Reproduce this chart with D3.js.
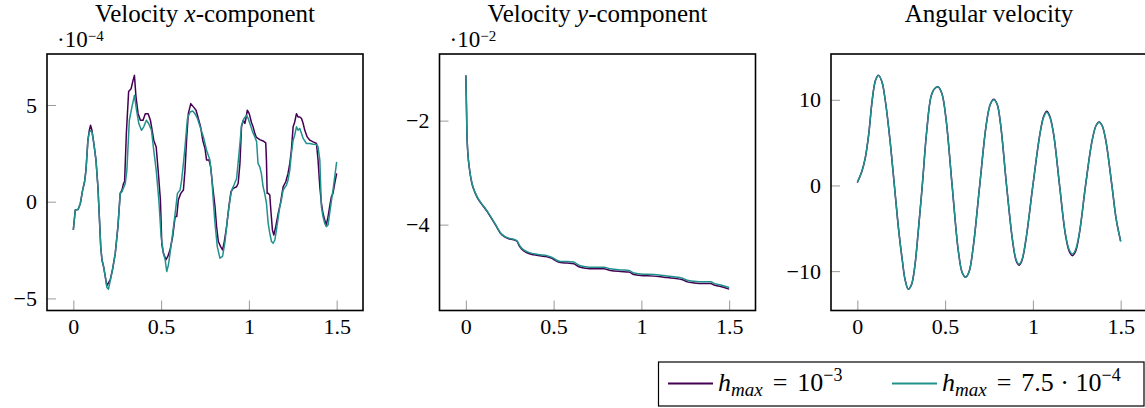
<!DOCTYPE html>
<html>
<head>
<meta charset="utf-8">
<script src="https://cdn.jsdelivr.net/npm/d3@7"></script>
<style>
  body { margin: 0; background: #fff; }
  text { font-family: "Liberation Serif", "DejaVu Serif", serif; fill: #000; }
</style>
</head>
<body>
<div id="plot-container"></div>
<script>
// --- data ---

// panel 1: velocity x-component (units of 1e-4)
var velXTimeA = [0.000,0.011,0.027,0.040,0.053,0.064,0.072,0.083,0.091,0.098,0.106,0.117,0.129,0.140,0.148,0.156,0.163,0.172,0.182,0.191,0.200,0.210,0.223,0.239,0.254,0.267,0.277,0.286,0.292,0.302,0.315,0.329,0.340,0.348,0.357,0.369,0.382,0.397,0.410,0.426,0.439,0.449,0.458,0.472,0.483,0.496,0.504,0.513,0.528,0.538,0.551,0.566,0.580,0.589,0.598,0.612,0.627,0.636,0.646,0.655,0.669,0.684,0.699,0.712,0.725,0.737,0.750,0.759,0.773,0.782,0.794,0.807,0.816,0.826,0.839,0.850,0.860,0.873,0.886,0.898,0.911,0.930,0.939,0.949,0.958,0.968,0.977,0.983,0.991,1.002,1.015,1.024,1.034,1.043,1.062,1.081,1.096,1.100,1.104,1.110,1.119,1.125,1.134,1.142,1.153,1.167,1.180,1.195,1.210,1.223,1.233,1.242,1.252,1.261,1.271,1.280,1.290,1.300,1.309,1.318,1.332,1.347,1.366,1.385,1.394,1.404,1.413,1.422,1.432,1.441,1.451,1.460,1.470,1.479,1.489,1.500];
var velXA = [-1.46,-0.43,-0.40,-0.09,0.60,1.03,1.63,3.18,3.69,3.95,3.69,3.00,2.15,0.77,-0.77,-2.32,-3.00,-3.35,-3.87,-4.35,-4.20,-4.04,-3.52,-2.66,-1.29,0.43,0.60,0.95,1.03,3.52,5.70,5.84,6.27,6.53,5.41,4.55,4.21,4.21,4.55,4.55,4.21,3.69,3.18,2.83,1.63,0.09,-2.20,-2.66,-3.00,-2.83,-2.49,-1.80,-0.77,-0.77,0.09,0.43,0.60,1.63,3.35,4.55,5.07,4.90,4.73,4.30,3.87,3.18,2.75,2.15,2.15,1.81,0.77,-0.26,-1.29,-2.06,-2.32,-2.49,-2.06,-1.29,-0.26,0.52,0.69,0.77,0.95,1.98,3.87,4.21,4.04,4.30,4.73,4.55,4.08,3.87,3.52,3.32,3.21,3.14,3.04,2.15,0.43,0.43,0.35,-0.43,-1.46,-1.72,-1.29,-0.60,-0.08,0.77,1.03,1.46,1.98,2.66,3.87,4.12,4.55,4.38,4.38,4.30,4.04,3.70,3.35,3.18,3.09,3.01,2.15,0.78,-0.08,-0.60,-0.94,-1.20,-0.77,-0.26,0.26,0.43,0.95,1.46];

var velXTimeB = [0.000,0.011,0.027,0.040,0.053,0.064,0.072,0.083,0.091,0.098,0.106,0.117,0.129,0.140,0.148,0.156,0.163,0.172,0.182,0.191,0.200,0.210,0.223,0.239,0.254,0.267,0.277,0.296,0.305,0.319,0.334,0.348,0.360,0.373,0.388,0.401,0.416,0.429,0.445,0.458,0.472,0.487,0.500,0.513,0.523,0.532,0.542,0.551,0.566,0.580,0.593,0.608,0.617,0.627,0.636,0.650,0.665,0.680,0.693,0.707,0.722,0.741,0.759,0.778,0.788,0.797,0.807,0.820,0.835,0.850,0.864,0.877,0.892,0.902,0.915,0.930,0.949,0.958,0.972,0.987,0.996,1.009,1.021,1.034,1.044,1.052,1.062,1.071,1.081,1.090,1.100,1.110,1.119,1.129,1.138,1.148,1.157,1.176,1.185,1.195,1.214,1.223,1.233,1.242,1.252,1.261,1.271,1.280,1.290,1.300,1.309,1.328,1.347,1.366,1.385,1.394,1.404,1.413,1.422,1.432,1.441,1.451,1.460,1.479,1.500];
var velXB = [-1.46,-0.43,-0.40,-0.09,0.60,1.03,1.63,3.18,3.60,3.66,3.60,3.00,2.15,0.77,-0.77,-2.32,-3.00,-3.35,-3.87,-4.43,-4.52,-4.10,-3.52,-2.66,-1.29,0.43,0.52,0.94,1.63,4.21,4.90,5.50,4.73,4.04,3.69,3.87,4.21,4.04,3.69,2.66,1.63,0.09,-1.80,-2.66,-3.00,-3.61,-3.26,-2.66,-1.63,-0.60,0.43,0.60,1.12,1.98,2.83,4.30,4.64,4.69,4.55,4.30,3.87,3.35,2.66,2.15,1.29,0.09,-1.12,-2.32,-2.92,-2.83,-2.06,-0.95,0.09,0.60,0.86,1.20,3.00,3.95,4.30,4.47,4.30,3.95,3.61,3.35,3.10,1.98,1.80,1.46,0.77,0.43,-0.08,-1.12,-1.63,-2.06,-2.15,-1.98,-1.46,-0.26,0.09,0.60,0.86,1.12,1.63,2.49,3.18,3.44,3.87,3.70,3.78,3.52,3.27,3.01,3.01,2.97,2.96,2.84,2.15,-0.26,-0.77,-1.12,-1.29,-1.20,-0.60,0.60,2.06];

// panel 2: velocity y-component (units of 1e-2)
var velYTime = [0,0.002,0.004,0.006,0.011,0.021,0.034,0.053,0.072,0.091,0.105,0.120,0.139,0.168,0.196,0.219,0.244,0.272,0.291,0.306,0.320,0.348,0.386,0.424,0.463,0.491,0.510,0.539,0.577,0.615,0.634,0.653,0.682,0.729,0.786,0.824,0.881,0.929,0.957,0.996,1.072,1.129,1.186,1.234,1.262,1.300,1.357,1.395,1.414,1.452,1.500];
var velYA = [-1.13,-1.45,-1.80,-2.22,-2.60,-2.94,-3.20,-3.39,-3.52,-3.61,-3.67,-3.74,-3.84,-4.00,-4.16,-4.23,-4.27,-4.29,-4.32,-4.42,-4.48,-4.54,-4.58,-4.60,-4.62,-4.65,-4.69,-4.73,-4.74,-4.75,-4.79,-4.82,-4.84,-4.85,-4.85,-4.88,-4.90,-4.91,-4.96,-4.98,-4.99,-5.01,-5.03,-5.06,-5.10,-5.12,-5.13,-5.13,-5.16,-5.19,-5.24];
var velYB = [-1.13,-1.45,-1.80,-2.22,-2.60,-2.93,-3.19,-3.38,-3.51,-3.60,-3.66,-3.73,-3.83,-3.99,-4.15,-4.22,-4.26,-4.28,-4.31,-4.40,-4.46,-4.52,-4.56,-4.58,-4.60,-4.63,-4.67,-4.71,-4.71,-4.72,-4.76,-4.79,-4.81,-4.82,-4.82,-4.85,-4.87,-4.88,-4.93,-4.95,-4.96,-4.98,-5.00,-5.03,-5.07,-5.09,-5.10,-5.10,-5.13,-5.16,-5.21];

// panel 3: angular velocity
var angTime = [0.000,0.025,0.045,0.065,0.085,0.104,0.121,0.140,0.160,0.185,0.211,0.237,0.256,0.272,0.290,0.308,0.327,0.346,0.370,0.395,0.420,0.440,0.461,0.482,0.505,0.540,0.575,0.598,0.617,0.636,0.660,0.697,0.735,0.758,0.777,0.796,0.815,0.850,0.885,0.905,0.921,0.937,0.960,1.000,1.040,1.062,1.079,1.096,1.118,1.152,1.185,1.207,1.225,1.243,1.265,1.300,1.337,1.360,1.377,1.394,1.415,1.450,1.475,1.500];
var angA = [0.35,1.6,3.2,6.0,10.0,12.3,12.85,12.1,9.8,5.5,0.0,-5.5,-8.7,-11.0,-12.1,-11.6,-9.5,-5.6,0.0,6.3,10.4,11.3,11.5,10.7,7.8,0.0,-7.6,-10.2,-10.7,-10.1,-7.2,0.0,7.2,9.5,10.05,9.5,7.3,0.0,-6.6,-8.8,-9.3,-8.8,-6.4,0.0,6.0,8.1,8.65,8.1,6.0,0.0,-5.7,-7.7,-8.2,-7.7,-5.6,0.0,5.2,7.0,7.4,7.0,5.3,0.0,-4.0,-6.5];
var angB = [0.35,1.6,3.2,6.0,10.0,12.3,12.85,12.1,9.8,5.5,0.0,-5.5,-8.7,-11.0,-12.1,-11.6,-9.5,-5.6,0.0,6.3,10.4,11.3,11.5,10.7,7.8,0.0,-7.6,-10.2,-10.7,-10.1,-7.2,0.0,7.2,9.5,10.0,9.5,7.3,0.0,-6.5,-8.7,-9.2,-8.7,-6.3,0.0,6.0,8.0,8.55,8.0,6.0,0.0,-5.6,-7.5,-8.0,-7.5,-5.5,0.0,5.2,7.0,7.38,7.0,5.3,0.0,-4.0,-6.56];

var xTicks = [0, 0.5, 1, 1.5];
var xTickLabels = ["0", "0.5", "1", "1.5"];
var colours = ["#440154", "#21918c"];
var legendLabels = [["10", "\u22123"], ["7.5 \u00b7 10", "\u22124"]];

// --- layout ---
var W = 1145, H = 408;
var frameTop = 54, frameBottom = 310.5, frameW = 316;
var panelLeft = [47, 439.5, 831];

var svg = d3.select("#plot-container")
  .append("svg")
  .attr("width", W)
  .attr("height", H);

var panels = [
  { title: ["Velocity ", "x", "-component"], exp: "\u22124", yTicks: [-5, 0, 5],
    series: [[velXTimeA, velXA], [velXTimeB, velXB]], curve: d3.curveLinear },
  { title: ["Velocity ", "y", "-component"], exp: "\u22122", yTicks: [-4, -2],
    series: [[velYTime, velYA], [velYTime, velYB]], curve: d3.curveMonotoneX },
  { title: ["Angular velocity", "", ""], exp: null, yTicks: [-10, 0, 10],
    series: [[angTime, angA], [angTime, angB]], curve: d3.curveCatmullRom }
];

function fmt(d) { return d < 0 ? "\u2212" + Math.abs(d) : String(d); }

panels.forEach(function(p, i) {
  var left = panelLeft[i];
  var g = svg.append("g");

  var x = d3.scaleLinear().domain([-0.15, 1.65]).range([left, left + frameW]);

  var all = p.series[0][1].concat(p.series[1][1]);
  var lo = d3.min(all), hi = d3.max(all), pad = (hi - lo) * 0.1;
  var y = d3.scaleLinear().domain([lo - pad, hi + pad]).range([frameBottom, frameTop]);

  var xAxis = g.append("g")
    .attr("transform", "translate(0," + frameBottom + ")")
    .call(d3.axisBottom(x).tickValues(xTicks).tickSize(-10).tickPadding(8)
      .tickFormat(function(d, k) { return xTickLabels[k]; }));
  var yAxis = g.append("g")
    .attr("transform", "translate(" + left + ",0)")
    .call(d3.axisLeft(y).tickValues(p.yTicks).tickSize(-9).tickPadding(10).tickFormat(fmt));

  [xAxis, yAxis].forEach(function(a) {
    a.select(".domain").remove();
    a.selectAll(".tick line").attr("stroke", "#9a9a9a").attr("stroke-width", 1);
    a.selectAll(".tick text").attr("font-family", "Liberation Serif").attr("font-size", 22).attr("fill", "#000");
  });

  p.series.forEach(function(s, k) {
    var pts = s[0].map(function(t, j) { return [t, s[1][j]]; });
    g.append("path")
      .datum(pts)
      .attr("fill", "none")
      .attr("stroke", colours[k])
      .attr("stroke-width", 1.5)
      .attr("stroke-linejoin", "round")
      .attr("d", d3.line().curve(p.curve)
        .x(function(d) { return x(d[0]); })
        .y(function(d) { return y(d[1]); }));
  });

  g.append("rect")
    .attr("x", left).attr("y", frameTop)
    .attr("width", frameW).attr("height", frameBottom - frameTop)
    .attr("fill", "none").attr("stroke", "#000").attr("stroke-width", 1.6);

  var title = g.append("text")
    .attr("x", left + frameW / 2).attr("y", 22)
    .attr("text-anchor", "middle").attr("font-size", 25);
  title.append("tspan").text(p.title[0]);
  if (p.title[1]) {
    title.append("tspan").attr("font-style", "italic").text(p.title[1]);
    title.append("tspan").text(p.title[2]);
  }

  if (p.exp) {
    var e = g.append("text").attr("x", left + 10).attr("y", 47).attr("font-size", 23);
    e.append("tspan").text("\u00b710");
    e.append("tspan").attr("font-size", 15).attr("dy", -6).text(p.exp);
  }
});

// legend
var leg = svg.append("g");
leg.append("rect")
  .attr("x", 658.5).attr("y", 362).attr("width", 485.5).attr("height", 44)
  .attr("fill", "#fff").attr("stroke", "#000").attr("stroke-width", 1.2);

var entryX = [668, 892];
legendLabels.forEach(function(lab, k) {
  var x0 = entryX[k];
  leg.append("line")
    .attr("x1", x0).attr("x2", x0 + 45).attr("y1", 383.5).attr("y2", 383.5)
    .attr("stroke", colours[k]).attr("stroke-width", 2);
  var t = leg.append("text").attr("x", x0 + 50).attr("y", 391).attr("font-size", 26);
  t.append("tspan").attr("font-style", "italic").text("h");
  t.append("tspan").attr("font-style", "italic").attr("font-size", 19).attr("dy", 5).text("max");
  t.append("tspan").attr("dy", -5).attr("dx", 10).text("=");
  t.append("tspan").attr("dx", 10).text(lab[0]);
  t.append("tspan").attr("font-size", 18).attr("dy", -10).text(lab[1]);
});
</script>
</body>
</html>
